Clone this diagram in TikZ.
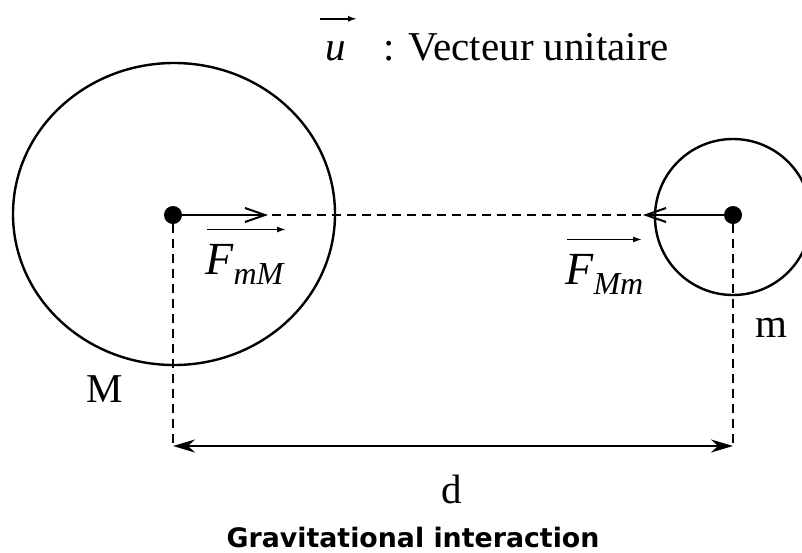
\documentclass[tikz,border=0pt]{standalone}
\usepackage{fontspec}
\setmainfont{Liberation Serif}
\newfontfamily\capfont{DejaVu Sans}
\usetikzlibrary{arrows.meta,calc}

\begin{document}
\begin{tikzpicture}[x=0.5pt,y=-0.5pt,
  every node/.style={inner sep=0pt,font=\fontsize{20.5}{24}\selectfont},
  dot/.style={circle,fill=black,minimum size=9pt},
  body/.style={line width=1.2pt},
  dashline/.style={dash pattern=on 4.5pt off 3pt,line width=1pt},
  force/.style={line width=1.2pt,-{Straight Barb[length=10pt,width=7pt,line width=1pt]}},
  vec/.style={line width=0.8pt,-{Latex[length=4.5pt,width=3pt]}},
  dimline/.style={line width=1.2pt,{Stealth[length=11pt,width=6.5pt,inset=3.5pt]}-{Stealth[length=11pt,width=6.5pt,inset=3.5pt]}}]
\useasboundingbox (0,0) rectangle (802,552);
\clip (0,0) rectangle (802,552);
% Bodies
\draw[body] (174,214) ellipse [x radius=80.5pt, y radius=75.5pt];
\draw[body] (733,217) circle [radius=39pt];
\node[dot] (Mc) at (173,215) {};
\node[dot] (mc) at (733,215) {};
\coordinate (tipM) at (268,215);
\coordinate (tipm) at (643,215);
\coordinate (dM) at (173,446);
\coordinate (dm) at (733,446);
% Dashed lines
\draw[dashline] (Mc) -- (mc);
\draw[dashline] (Mc) -- (dM);
\draw[dashline] (mc) -- (dm);
% Forces
\draw[force] (Mc) -- (tipM);
\draw[force] (mc) -- (tipm);
\node[anchor=base west] (FmM) at (205,274) {\fontsize{23}{26}\selectfont\itshape F\raisebox{-5pt}{\fontsize{16}{16}\selectfont mM}};
\draw[vec] ([xshift=1pt,yshift=7pt]FmM.north west) -- ++(79,0);
\node[anchor=base west] (FMm) at (565,284) {\fontsize{23}{26}\selectfont\itshape F\raisebox{-5pt}{\fontsize{16}{16}\selectfont Mm}};
\draw[vec] ([xshift=1pt,yshift=7pt]FMm.north west) -- ++(75,0);
% Distance
\draw[dimline] (dM) -- (dm);
\node (d) at (452,489) {d};
% Labels
\node (labM) at (105,389) {M};
\node (labm) at (771,328) {m};
\node[anchor=base west] (vu) at (325,60) {\itshape u};
\draw[vec] ([xshift=-2.5pt,yshift=11pt]vu.north west) -- ++(37,0);
\node[anchor=base west] (legend) at (383,60) {: Vecteur unitaire};
\node (cap) at (413,537) {\capfont\bfseries\fontsize{13.4}{15}\selectfont Gravitational interaction};
\end{tikzpicture}
\end{document}
